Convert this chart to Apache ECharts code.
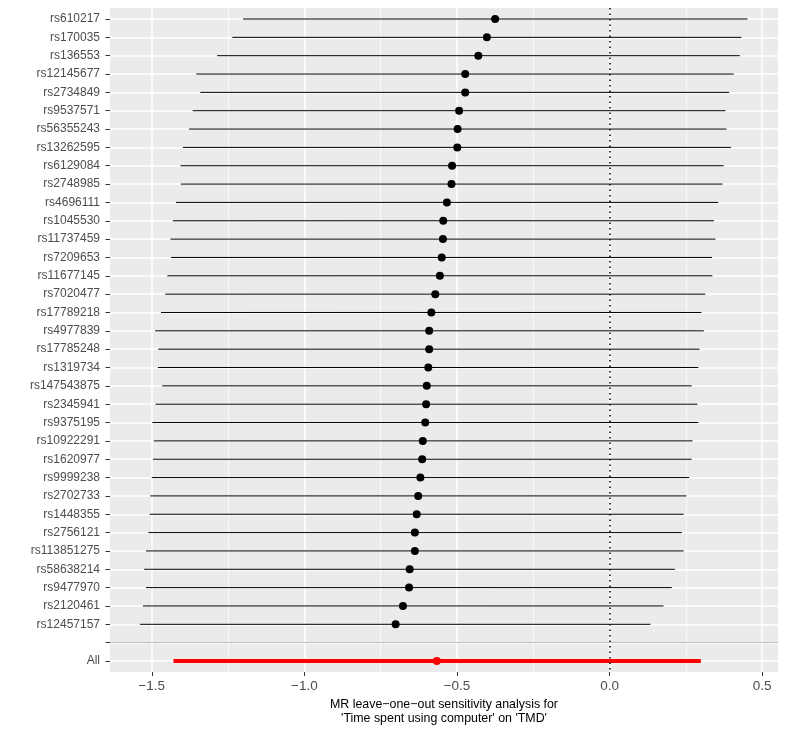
<!DOCTYPE html>
<html>
<head>
<meta charset="utf-8">
<script src="https://cdn.jsdelivr.net/npm/echarts@6/dist/echarts.min.js"></script>
<style>
  html, body { margin: 0; padding: 0; background: #ffffff; }
  #loo { width: 787px; height: 731px; }
</style>
</head>
<body>
<div id="loo"></div>
<script>
// leave-one-out rows, top to bottom
var snps = ['rs610217', 'rs170035', 'rs136553', 'rs12145677', 'rs2734849', 'rs9537571',
    'rs56355243', 'rs13262595', 'rs6129084', 'rs2748985', 'rs4696111', 'rs1045530',
    'rs11737459', 'rs7209653', 'rs11677145', 'rs7020477', 'rs17789218', 'rs4977839',
    'rs17785248', 'rs1319734', 'rs147543875', 'rs2345941', 'rs9375195', 'rs10922291',
    'rs1620977', 'rs9999238', 'rs2702733', 'rs1448355', 'rs2756121', 'rs113851275',
    'rs58638214', 'rs9477970', 'rs2120461', 'rs12457157']
var estimate = [-0.375, -0.402, -0.430, -0.473, -0.473, -0.493, -0.498, -0.499, -0.516,
    -0.518, -0.533, -0.545, -0.546, -0.550, -0.556, -0.571, -0.584, -0.591, -0.591,
    -0.594, -0.599, -0.601, -0.604, -0.612, -0.614, -0.620, -0.627, -0.632, -0.638,
    -0.638, -0.655, -0.657, -0.677, -0.701]
var lower = [-1.201, -1.236, -1.286, -1.354, -1.341, -1.366, -1.378, -1.398, -1.406,
    -1.405, -1.421, -1.431, -1.439, -1.437, -1.449, -1.456, -1.470, -1.489, -1.479,
    -1.480, -1.466, -1.488, -1.498, -1.493, -1.496, -1.500, -1.505, -1.507, -1.511,
    -1.519, -1.525, -1.519, -1.529, -1.539]
var upper = [0.452, 0.432, 0.427, 0.407, 0.392, 0.380, 0.383, 0.398, 0.374,
    0.370, 0.356, 0.342, 0.347, 0.336, 0.337, 0.314, 0.301, 0.309, 0.295,
    0.291, 0.269, 0.288, 0.291, 0.272, 0.269, 0.261, 0.252, 0.243, 0.237,
    0.243, 0.214, 0.204, 0.177, 0.134]

// pooled estimate
var allEstimate = -0.566
var allLower = -1.429
var allUpper = 0.299

var xTicks = [-1.5, -1.0, -0.5, 0.0, 0.5]
var xMinorTicks = [-1.25, -0.75, -0.25, 0.25]

// row labels: snps, an empty spacer row, then All
var rowLabels = snps.concat(['', 'All'])
var gapRow = snps.length
var allRow = snps.length + 1

var font = 'Liberation Sans, Arial, Helvetica, sans-serif'

var rowIdx = []
for (var i = 0; i < rowLabels.length; i++) rowIdx.push(i)

var segData = []
var pointData = []
for (var i = 0; i < snps.length; i++) {
    segData.push([i, lower[i], upper[i]])
    pointData.push([estimate[i], i])
}
segData.push([allRow, allLower, allUpper])

function fmtX(v) {
    var s = Math.abs(v).toFixed(1)
    return v < 0 ? '\u2212' + s : s
}

var chart = echarts.init(document.getElementById('loo'))
chart.setOption({
    animation: false,
    backgroundColor: '#ffffff',
    grid: {
        left: 110, right: 9, top: 8, height: 664,
        show: true, backgroundColor: '#EBEBEB', borderWidth: 0,
        outerBoundsMode: 'none'
    },
    xAxis: [{
        type: 'value',
        position: 'bottom',
        min: -1.637, max: 0.552,
        axisLine: { show: false, onZero: false },
        axisTick: { show: true, length: 4, customValues: xTicks, lineStyle: { color: '#333333', width: 1 } },
        axisLabel: {
            customValues: xTicks, formatter: fmtX, margin: 7,
            color: '#4D4D4D', fontSize: 13.5, fontFamily: font
        },
        splitLine: { show: true, lineStyle: { color: '#ffffff', width: 1.5 } },
        name: 'MR leave\u2212one\u2212out sensitivity analysis for\n\'Time spent using computer\' on \'TMD\'',
        nameLocation: 'middle',
        nameGap: 21.5,
        nameTextStyle: {
            color: '#000000', fontSize: 12.4, fontFamily: font, lineHeight: 13.5,
            align: 'center', verticalAlign: 'top'
        }
    }, {
        // minor grid lines
        type: 'value',
        position: 'top',
        min: -1.637, max: 0.552,
        axisLine: { show: false, onZero: false },
        axisTick: { show: false, customValues: xMinorTicks },
        axisLabel: { show: false, customValues: xMinorTicks },
        splitLine: { show: true, lineStyle: { color: '#ffffff', width: 0.75 } }
    }],
    yAxis: {
        type: 'value',
        position: 'left',
        inverse: true,
        min: -0.6, max: rowLabels.length - 1 + 0.6,
        axisLine: { show: false, onZero: false },
        axisTick: { show: true, length: 4.5, customValues: rowIdx, lineStyle: { color: '#333333', width: 1 } },
        axisLabel: {
            customValues: rowIdx,
            formatter: function (v) { return rowLabels[Math.round(v)] },
            margin: 10, color: '#4D4D4D', fontSize: 12, fontFamily: font
        },
        splitLine: { show: true, lineStyle: { color: '#ffffff', width: 1.5 } }
    },
    series: [
        {
            type: 'custom',
            xAxisIndex: 0,
            encode: { x: [1, 2], y: 0 },
            renderItem: function (params, api) {
                var row = api.value(0)
                var p1 = api.coord([api.value(1), row])
                var p2 = api.coord([api.value(2), row])
                var isAll = row === allRow
                return {
                    type: 'line',
                    shape: { x1: p1[0], y1: p1[1], x2: p2[0], y2: p2[1] },
                    style: { stroke: isAll ? '#FF0000' : '#000000', lineWidth: isAll ? 4 : 1 }
                }
            },
            data: segData,
            markLine: {
                silent: true,
                symbol: 'none',
                label: { show: false },
                data: [
                    { yAxis: gapRow, lineStyle: { color: '#BEBEBE', width: 1, type: 'solid', opacity: 1 } },
                    { xAxis: 0, lineStyle: { color: '#000000', width: 1.5, type: [1.5, 4], opacity: 1 } }
                ]
            },
            z: 2
        },
        {
            type: 'scatter',
            xAxisIndex: 0,
            symbol: 'circle',
            symbolSize: 8,
            itemStyle: { color: '#000000', opacity: 1 },
            data: pointData,
            z: 3
        },
        {
            type: 'scatter',
            xAxisIndex: 0,
            symbol: 'circle',
            symbolSize: 8,
            itemStyle: { color: '#FF0000', opacity: 1 },
            data: [[allEstimate, allRow]],
            z: 4
        }
    ]
})
</script>
</body>
</html>
